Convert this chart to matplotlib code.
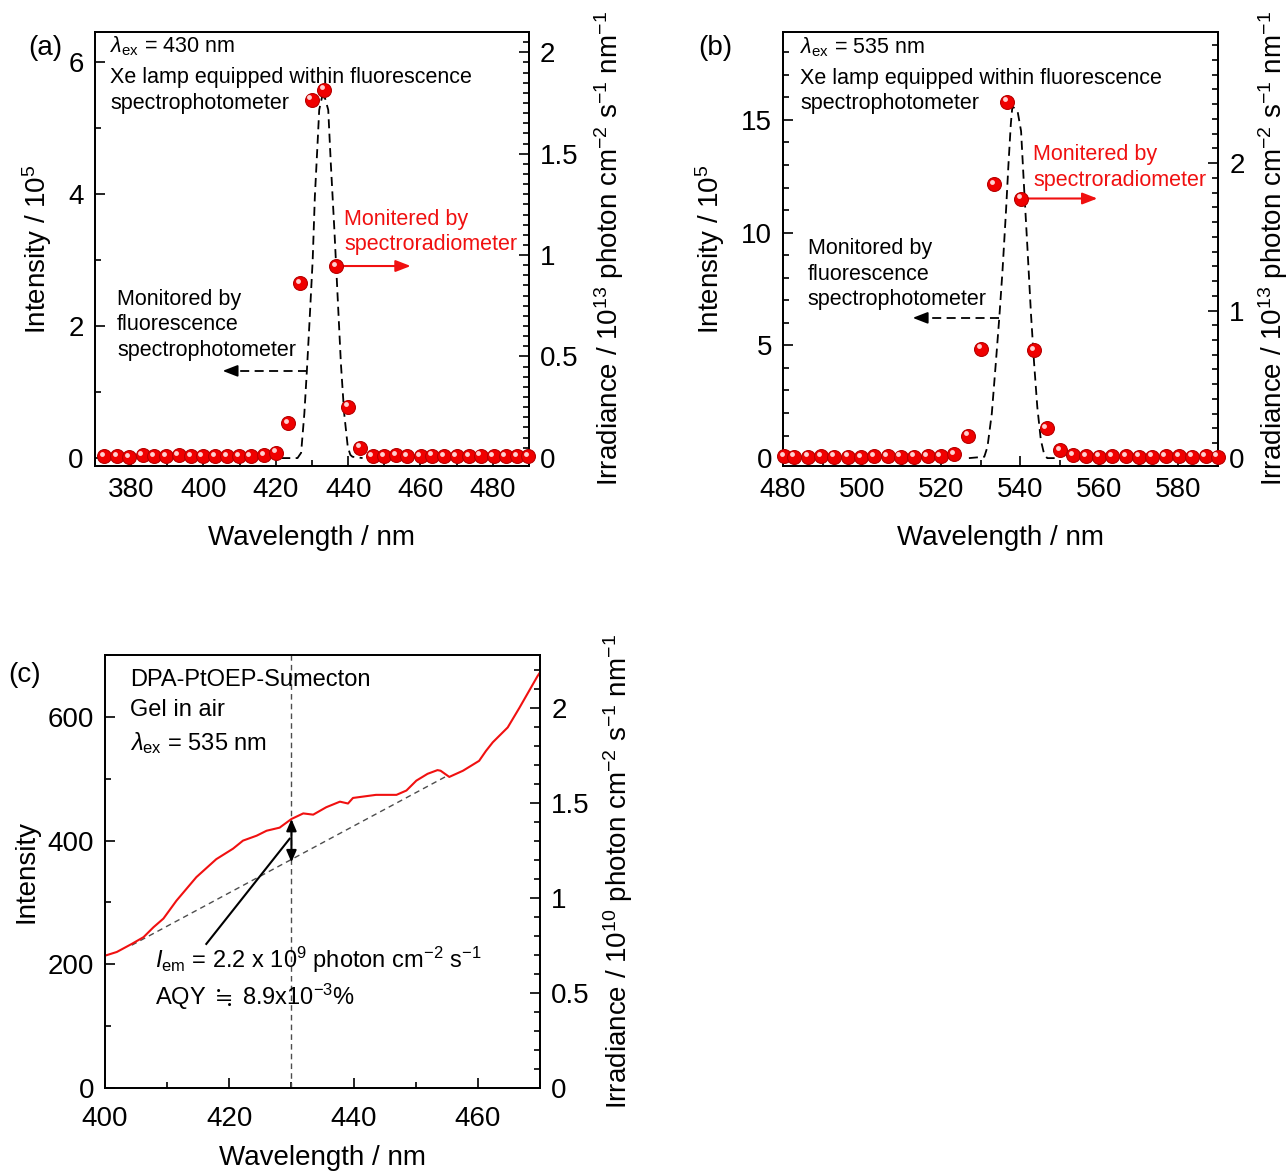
import matplotlib.pyplot as plt
from matplotlib.ticker import MultipleLocator, FormatStrFormatter
from matplotlib.transforms import offset_copy

plt.rcParams['font.family'] = ['Liberation Sans', 'DejaVu Sans']
plt.rcParams['mathtext.fontset'] = 'custom'
plt.rcParams['mathtext.rm'] = 'Liberation Sans'
plt.rcParams['mathtext.it'] = 'Liberation Sans:italic'
plt.rcParams['mathtext.bf'] = 'Liberation Sans:bold'
plt.rcParams['mathtext.fallback'] = 'stixsans'
plt.rcParams['axes.linewidth'] = 1.3

# (a) excitation at 430 nm
a_dot_wl = [372.6, 376.2, 379.5, 383.2, 386.4, 389.7, 393.1, 396.6, 399.8, 403.2, 406.5, 409.9,
            413.1, 416.7, 420.1, 423.5, 426.8, 429.9, 433.4, 436.7, 440.0, 443.3, 446.8, 450.0,
            453.2, 456.4, 460.1, 463.3, 466.5, 470.0, 473.5, 476.7, 480.2, 483.6, 486.8, 489.8]
a_dot_irr = [0.010, 0.008, 0.005, 0.012, 0.008, 0.007, 0.012, 0.009, 0.008, 0.010, 0.008, 0.007,
             0.009, 0.012, 0.025, 0.171, 0.860, 1.767, 1.816, 0.946, 0.253, 0.051, 0.010, 0.008,
             0.012, 0.009, 0.010, 0.011, 0.008, 0.010, 0.009, 0.011, 0.008, 0.010, 0.009, 0.010]
a_line_wl = [421.5, 426.0, 427.0, 427.9, 428.6, 429.3, 430.2, 430.8, 431.6, 432.0, 432.8,
             433.6, 434.5, 435.2, 436.2, 437.1, 438.0, 438.9, 439.9, 440.6, 441.2, 444.0]
a_line_int = [0.0, 0.0, 0.08, 0.68, 1.33, 2.04, 3.0, 3.96, 4.82, 5.27, 5.47,
              5.45, 5.27, 4.47, 3.45, 2.44, 1.43, 0.68, 0.17, 0.05, 0.02, 0.0]

# (b) excitation at 535 nm
b_dot_wl = [480.3, 482.9, 486.3, 489.6, 493.0, 496.4, 499.7, 503.1, 506.5, 509.8, 513.2, 516.6,
            519.9, 523.3, 526.8, 530.1, 533.4, 536.7, 540.2, 543.5, 546.7, 550.1, 553.4, 556.6,
            560.0, 563.3, 566.7, 570.1, 573.4, 576.8, 580.1, 583.4, 586.9, 589.9]
b_dot_irr = [0.010, 0.009, 0.008, 0.010, 0.008, 0.009, 0.007, 0.010, 0.012, 0.009, 0.008, 0.010,
             0.012, 0.027, 0.150, 0.740, 1.857, 2.417, 1.760, 0.730, 0.202, 0.054, 0.020, 0.012,
             0.009, 0.010, 0.011, 0.008, 0.009, 0.010, 0.011, 0.008, 0.010, 0.009]
b_line_wl = [527.0, 530.9, 531.7, 532.8, 533.8, 534.7, 535.5, 536.4, 537.0, 537.6, 538.0,
             539.3, 540.2, 541.0, 541.8, 542.7, 543.5, 544.3, 545.2, 546.0, 546.8, 549.0]
b_line_int = [0.0, 0.06, 0.5, 1.98, 4.19, 6.25, 8.3, 11.0, 13.0, 14.8, 15.6,
              15.4, 14.5, 11.86, 9.35, 6.4, 4.19, 2.27, 0.8, 0.2, 0.0, 0.0]

# (c) emission of DPA-PtOEP-Sumecton gel
c_wl = [400.0, 401.9, 404.3, 406.2, 407.8, 409.4, 411.5, 414.7, 417.9, 420.6, 422.2, 424.4,
        426.0, 428.1, 430.0, 431.9, 433.5, 435.6, 437.8, 439.1, 439.9, 443.6, 446.9, 448.5,
        450.1, 451.9, 453.5, 454.0, 455.4, 457.6, 460.2, 461.3, 462.4, 464.8, 466.7, 469.6, 470.0]
c_int = [214, 220, 233, 244, 260, 274, 303, 341, 370, 387, 400, 408,
         416, 421, 435, 444, 442, 454, 463, 460, 469, 474, 474, 481,
         497, 508, 514, 513, 503, 513, 529, 545, 559, 583, 615, 666, 672]
c_base_wl = [404.3, 455.1]
c_base_int = [231, 505]
c_mark_wl = 430
c_mark_int = [365, 435]


def sphere_dots(ax, x, y):
    ax.plot(x, y, 'o', ms=10, mfc='#f00000', mec='#b80000', mew=0.8, ls='none',
            clip_on=False, zorder=5)
    shine = offset_copy(ax.transData, fig=ax.figure, x=-1.7, y=1.7, units='points')
    ax.plot(x, y, 'o', ms=3.5, mfc='#ffd0d0', mec='none', ls='none', transform=shine,
            clip_on=False, zorder=6)


def style_axes(ax, ax2, xmaj, ymaj, ymin, y2maj, y2min, xpad=8):
    ax.xaxis.set_major_locator(MultipleLocator(xmaj))
    ax.xaxis.set_minor_locator(MultipleLocator(xmaj / 2))
    ax.yaxis.set_major_locator(MultipleLocator(ymaj))
    ax.yaxis.set_minor_locator(MultipleLocator(ymin))
    ax2.yaxis.set_major_locator(MultipleLocator(y2maj))
    ax2.yaxis.set_minor_locator(MultipleLocator(y2min))
    ax2.yaxis.set_major_formatter(FormatStrFormatter('%g'))
    for a in (ax, ax2):
        a.tick_params(which='both', direction='in', labelsize=20, width=1.2, pad=8)
        a.tick_params(which='major', length=7)
        a.tick_params(which='minor', length=4)
    ax.tick_params(axis='x', pad=xpad)
    ax.tick_params(which='both', top=False, right=False)
    ax2.tick_params(which='both', top=False, left=False)


def dashed_arrow(ax, x0, x1, y):
    ax.plot([x0, x1], [y, y], color='k', lw=1.3, ls=(0, (5, 3)))
    ax.annotate('', xy=(x1, y), xytext=(x1 + 2.5, y),
                arrowprops=dict(arrowstyle='-|>,head_length=0.9,head_width=0.35',
                                color='k', lw=1.3, shrinkA=0, shrinkB=0))


def red_arrow(ax, x0, x1, y):
    ax.annotate('', xy=(x1, y), xytext=(x0, y),
                arrowprops=dict(arrowstyle='-|>,head_length=0.9,head_width=0.35',
                                color='#f01010', lw=1.5, shrinkA=0, shrinkB=0), zorder=4)


fig = plt.figure(figsize=(12.87, 11.75), dpi=100)
irr13 = r'Irradiance / 10$^{13}$ photon cm$^{-2}$ s$^{-1}$ nm$^{-1}$'
fs_note = 15.5

# ---- panel (a)
axa = fig.add_axes([0.0738, 0.6034, 0.3372, 0.3694])
axa2 = axa.twinx()
axa.plot(a_line_wl, a_line_int, color='k', lw=1.3, ls=(0, (5, 3)))
sphere_dots(axa2, a_dot_wl, a_dot_irr)
axa.set_xlim(370, 490)
axa.set_ylim(-0.12, 6.45)
axa2.set_ylim(-0.04, 2.1)
style_axes(axa, axa2, 20, 2, 1, 0.5, 0.05)
axa.set_xlabel('Wavelength / nm', fontsize=20, labelpad=16)
axa.set_ylabel(r'Intensity / 10$^5$', fontsize=20, labelpad=10)
axa2.set_ylabel(irr13, fontsize=20, labelpad=10)
dashed_arrow(axa, 428.6, 405.3, 1.32)
red_arrow(axa2, 436.7, 457.3, 0.946)
axa2.text(0.035, 0.968, r'$\lambda_{\rm ex}$ = 430 nm', transform=axa2.transAxes,
          fontsize=fs_note, va='center')
axa2.text(0.035, 0.866, 'Xe lamp equipped within fluorescence\nspectrophotometer',
          transform=axa2.transAxes, fontsize=fs_note, va='center', linespacing=1.3)
axa2.text(0.574, 0.539, 'Monitered by\nspectroradiometer', transform=axa2.transAxes,
          fontsize=fs_note, va='center', color='#f01010', linespacing=1.3)
axa2.text(0.051, 0.325, 'Monitored by\nfluorescence\nspectrophotometer',
          transform=axa2.transAxes, fontsize=fs_note, va='center', linespacing=1.3)
fig.text(45 / 1287, 1 - 48 / 1175, '(a)', fontsize=20, ha='center', va='center')

# ---- panel (b)
axb = fig.add_axes([0.6084, 0.6034, 0.338, 0.3694])
axb2 = axb.twinx()
axb.plot(b_line_wl, b_line_int, color='k', lw=1.3, ls=(0, (5, 3)))
sphere_dots(axb2, b_dot_wl, b_dot_irr)
axb.set_xlim(480, 590)
axb.set_ylim(-0.35, 18.9)
axb2.set_ylim(-0.055, 2.89)
style_axes(axb, axb2, 20, 5, 1, 1, 0.1)
axb.set_xlabel('Wavelength / nm', fontsize=20, labelpad=16)
axb.set_ylabel(r'Intensity / 10$^5$', fontsize=20, labelpad=10)
axb2.set_ylabel(irr13, fontsize=20, labelpad=8)
dashed_arrow(axb, 534.7, 512.8, 6.22)
red_arrow(axb2, 540.2, 559.5, 1.76)
axb2.text(0.039, 0.965, r'$\lambda_{\rm ex}$ = 535 nm', transform=axb2.transAxes,
          fontsize=fs_note, va='center')
axb2.text(0.039, 0.864, 'Xe lamp equipped within fluorescence\nspectrophotometer',
          transform=axb2.transAxes, fontsize=fs_note, va='center', linespacing=1.3)
axb2.text(0.575, 0.687, 'Monitered by\nspectroradiometer', transform=axb2.transAxes,
          fontsize=fs_note, va='center', color='#f01010', linespacing=1.3)
axb2.text(0.057, 0.442, 'Monitored by\nfluorescence\nspectrophotometer',
          transform=axb2.transAxes, fontsize=fs_note, va='center', linespacing=1.3)
fig.text(715 / 1287, 1 - 48 / 1175, '(b)', fontsize=20, ha='center', va='center')

# ---- panel (c)
axc = fig.add_axes([0.0816, 0.0740, 0.338, 0.3685])
axc2 = axc.twinx()
axc.plot(c_wl, c_int, color='#f01010', lw=1.5, zorder=4)
axc.plot(c_base_wl, c_base_int, color='0.3', lw=1.0, ls=(0, (4, 3)))
axc.axvline(c_mark_wl, color='0.3', lw=1.0, ls=(0, (4, 3)))
axc.annotate('', xy=(c_mark_wl, c_mark_int[1]), xytext=(c_mark_wl, c_mark_int[0]),
             arrowprops=dict(arrowstyle='<|-|>,head_length=0.7,head_width=0.3',
                             color='k', lw=1.5, shrinkA=0, shrinkB=0))
axc.plot([416.3, 429.7], [233, 403], color='k', lw=1.5)
axc.set_xlim(400, 470)
axc.set_ylim(0, 700)
axc2.set_ylim(0, 2.28)
style_axes(axc, axc2, 20, 200, 100, 0.5, 0.1, xpad=13)
axc.set_xlabel('Wavelength / nm', fontsize=20, labelpad=9)
axc.set_ylabel('Intensity', fontsize=20, labelpad=6)
axc2.set_ylabel(r'Irradiance / 10$^{10}$ photon cm$^{-2}$ s$^{-1}$ nm$^{-1}$',
                fontsize=20, labelpad=8)
fs_c = 17
axc.text(0.0575, 0.942, 'DPA-PtOEP-Sumecton', transform=axc.transAxes, fontsize=fs_c, va='center')
axc.text(0.0575, 0.873, 'Gel in air', transform=axc.transAxes, fontsize=fs_c, va='center')
axc.text(0.0575, 0.797, r'$\lambda_{\rm ex}$ = 535 nm', transform=axc.transAxes,
         fontsize=fs_c, va='center')
axc.text(0.115, 0.296, r'$I_{\rm em}$ = 2.2 x 10$^9$ photon cm$^{-2}$ s$^{-1}$',
         transform=axc.transAxes, fontsize=fs_c, va='center')
axc.text(0.115, 0.210, r'AQY $\fallingdotseq$ 8.9x10$^{-3}$%', transform=axc.transAxes,
         fontsize=fs_c, va='center')
fig.text(25 / 1287, 1 - 675 / 1175, '(c)', fontsize=20, ha='center', va='center')

fig.savefig('out.png', dpi=100)
